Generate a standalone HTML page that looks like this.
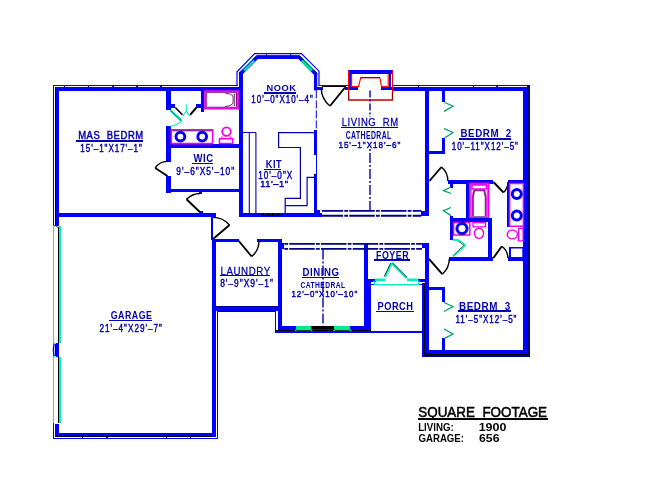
<!DOCTYPE html>
<html><head><meta charset="utf-8"><style>
html,body{margin:0;padding:0;background:#fff;width:648px;height:499px;overflow:hidden}
svg{display:block}
text{font-family:"Liberation Sans",sans-serif}
svg{will-change:transform}
</style></head><body>
<svg width="648" height="499" viewBox="0 0 648 499">
<rect width="648" height="499" fill="#fff"/>
<rect x="53" y="85" width="185" height="1" fill="#0000ff"/>
<rect x="55" y="87" width="188" height="4" fill="#0000ff"/>
<rect x="64" y="86" width="1" height="1" fill="#0000ff"/>
<rect x="88" y="86" width="1" height="1" fill="#0000ff"/>
<rect x="112" y="86" width="2" height="1" fill="#0000ff"/>
<rect x="136" y="86" width="2" height="1" fill="#0000ff"/>
<rect x="160" y="86" width="2" height="1" fill="#0000ff"/>
<rect x="53" y="85" width="1" height="140" fill="#0000ff"/>
<rect x="55" y="87" width="1" height="139" fill="#000000"/>
<rect x="56" y="87" width="3" height="139" fill="#0000ff"/>
<rect x="53" y="225" width="1" height="118" fill="#00f0c0"/>
<rect x="59" y="226" width="2" height="117" fill="#00f0c0"/>
<rect x="58" y="227" width="1" height="116" fill="#000000"/>
<rect x="53" y="357" width="1" height="66" fill="#00f0c0"/>
<rect x="59" y="357" width="2" height="66" fill="#00f0c0"/>
<rect x="58" y="357" width="1" height="66" fill="#000000"/>
<path d="M53.5,225.5 L56,225.8 L58,227.5" stroke="#000000" stroke-width="0.8" fill="none" />
<rect x="56" y="343" width="3" height="14" fill="#0000ff"/>
<rect x="55" y="344" width="1" height="12" fill="#000000"/>
<path d="M54,343.5 Q52.8,350 54,356.5" stroke="#0000ff" stroke-width="1.4" fill="none" />
<path d="M53.5,343 L55.5,343.5 M53.5,357 L55.5,356.5" stroke="#00f0c0" stroke-width="1" fill="none" />
<rect x="53" y="423" width="1" height="16" fill="#0000ff"/>
<rect x="55" y="424" width="4" height="13" fill="#0000ff"/>
<rect x="55" y="433" width="161" height="3" fill="#0000ff"/>
<rect x="55" y="436" width="161" height="1" fill="#000000"/>
<rect x="53" y="438" width="165" height="1" fill="#0000ff"/>
<rect x="82" y="437" width="1" height="1" fill="#0000ff"/>
<rect x="106" y="437" width="2" height="1" fill="#0000ff"/>
<rect x="166" y="437" width="1" height="1" fill="#0000ff"/>
<rect x="190" y="437" width="1" height="1" fill="#0000ff"/>
<rect x="212" y="239" width="4" height="198" fill="#0000ff"/>
<rect x="217" y="311" width="1" height="128" fill="#0000ff"/>
<polyline points="237,86 237,71.8 254.6,53.6 301.4,53.6 319,71.2 319,86" stroke="#0000ff" stroke-width="1.2" fill="none" stroke-linejoin="miter"/>
<polyline points="241,91 241,73.6 257.2,57.4 299,57.4 315.6,74 315.6,90.4" stroke="#0000ff" stroke-width="3.3" fill="none" stroke-linejoin="miter"/>
<polyline points="238.8,73 256.6,55.6 299.6,55.6 317.6,73.5" stroke="#000000" stroke-width="0.8" fill="none" />
<rect x="266" y="54" width="1" height="2" fill="#0000ff"/>
<rect x="290" y="54" width="1" height="2" fill="#0000ff"/>
<line x1="244.2" y1="70.6" x2="254.2" y2="60.6" stroke="#00e890" stroke-width="2.3" />
<line x1="241.8" y1="70.0" x2="252.0" y2="59.8" stroke="#00e890" stroke-width="0.9" />
<line x1="301.8" y1="60.6" x2="311.8" y2="70.6" stroke="#00e890" stroke-width="2.3" />
<line x1="304.0" y1="59.8" x2="314.2" y2="70.0" stroke="#00e890" stroke-width="0.9" />
<rect x="319" y="85" width="29" height="1" fill="#0000ff"/>
<rect x="314" y="87" width="9" height="3" fill="#0000ff"/>
<rect x="345" y="87" width="4" height="3" fill="#0000ff"/>
<rect x="322" y="86" width="24" height="1" fill="#000000"/>
<path d="M345,87.5 L330,106" stroke="#000000" stroke-width="1.9" fill="none" />
<path d="M330,106 A23.82,23.82 0 0 1 321.18,87.50" stroke="#000000" stroke-width="1.4" fill="none" />
<rect x="348" y="70" width="45" height="4" fill="#0000ff"/>
<rect x="349" y="73" width="2" height="14" fill="#0000ff"/>
<rect x="389" y="73" width="2" height="14" fill="#0000ff"/>
<rect x="349" y="87" width="9" height="3" fill="#0000ff"/>
<rect x="381" y="87" width="12" height="3" fill="#0000ff"/>
<path d="M348.6,70.4 V100 H392.5 V70.4" stroke="#ff0000" stroke-width="1.2" fill="none" />
<path d="M348.6,92 V100 H392.5 V92" stroke="#a00000" stroke-width="1.2" fill="none" />
<path d="M351.6,74 V86.6 H358.5 L360.8,77.6 H379.8 L381.5,86.6 H388.2 V74" stroke="#ff0000" stroke-width="1.1" fill="none" />
<path d="M360.8,77.6 H379.8" stroke="#a00000" stroke-width="1.2" fill="none" />
<rect x="393" y="85" width="137" height="1" fill="#0000ff"/>
<rect x="393" y="87" width="137" height="4" fill="#0000ff"/>
<rect x="418" y="86" width="1" height="1" fill="#0000ff"/>
<rect x="473" y="86" width="1" height="1" fill="#0000ff"/>
<rect x="496" y="86" width="2" height="1" fill="#0000ff"/>
<line x1="370" y1="90.5" x2="370" y2="117" stroke="#0000b0" stroke-width="1.4" stroke-dasharray="7 2 2 2"/>
<line x1="370" y1="149" x2="370" y2="210" stroke="#0000b0" stroke-width="1.4" stroke-dasharray="2 2 10 2"/>
<line x1="316.3" y1="90.4" x2="316.3" y2="130" stroke="#0000ff" stroke-width="1" stroke-dasharray="8 2"/>
<rect x="523" y="87" width="4" height="269" fill="#0000ff"/>
<rect x="527" y="85" width="3" height="272" fill="#000080"/>
<rect x="56" y="213" width="160" height="4" fill="#0000ff"/>
<rect x="200" y="211" width="3" height="2" fill="#0000ff"/>
<rect x="211" y="213" width="5" height="5" fill="#0000ff"/>
<rect x="211" y="218" width="2" height="22" fill="#0000ff"/>
<path d="M213,239 L229.5,225" stroke="#000000" stroke-width="1.9" fill="none" />
<path d="M229.5,225 A21.64,21.64 0 0 0 213.00,217.36" stroke="#000000" stroke-width="1.4" fill="none" />
<rect x="166" y="91" width="5" height="19" fill="#0000ff"/>
<rect x="171" y="104" width="4" height="4" fill="#0000ff"/>
<rect x="201" y="91" width="3" height="21" fill="#0000ff"/>
<rect x="196" y="104" width="5" height="4" fill="#0000ff"/>
<rect x="166" y="126" width="5" height="36" fill="#0000ff"/>
<rect x="166" y="176" width="5" height="17" fill="#0000ff"/>
<rect x="166" y="144" width="74" height="4" fill="#0000ff"/>
<rect x="166" y="189" width="74" height="3" fill="#0000ff"/>
<rect x="199" y="192" width="3" height="2" fill="#0000ff"/>
<path d="M175.3,107.5 L182.4,114.8" stroke="#000000" stroke-width="1.6" fill="none" />
<path d="M196.5,107.5 L190.1,114.8" stroke="#000000" stroke-width="2.0" fill="none" />
<path d="M182.6,116.2 L186.2,111.1 L186.2,104.2 M186.2,111.1 L190,116.2" stroke="#00f0c0" stroke-width="1.1" fill="none" />
<path d="M170.4,110.3 L181.6,120.8" stroke="#00f0c0" stroke-width="2.4" fill="none" />
<path d="M170.4,110.3 L181.6,120.8" stroke="#004040" stroke-width="0.6" fill="none" />
<path d="M181.6,120.8 Q177,125.5 170,126.2" stroke="#00f0c0" stroke-width="1.1" fill="none" />
<path d="M167.5,176 L155.2,168" stroke="#000000" stroke-width="1.9" fill="none" />
<path d="M155.2,168 A14.67,14.67 0 0 1 167.50,161.33" stroke="#000000" stroke-width="1.4" fill="none" />
<path d="M200.1,212.3 L186.5,199.3" stroke="#000000" stroke-width="1.9" fill="none" />
<path d="M186.5,199.3 A18.81,18.81 0 0 1 200.10,193.49" stroke="#000000" stroke-width="1.4" fill="none" />
<path d="M205.2,91.3 H238.6 V108.4 H205.2 Z" stroke="#f000f0" stroke-width="2.2" fill="none" />
<path d="M206.6,92.6 H237.2 V107.1 H206.6 Z" stroke="#600060" stroke-width="0.6" fill="none" />
<path d="M225,93 Q231,93.5 233,96 V103.5 Q231,106 225,106.6" stroke="#600060" stroke-width="0.8" fill="none" />
<path d="M234.3,93.5 V106 M236.5,93 V106.5" stroke="#600060" stroke-width="0.9" fill="none" />
<path d="M171.3,129.9 H212.6 V143.6 H171.3 Z" stroke="#f000f0" stroke-width="1.6" fill="none" />
<path d="M172.4,130.9 H211.6" stroke="#000000" stroke-width="0.6" fill="none" />
<circle cx="180.4" cy="136.6" r="4.4" stroke="#0000ff" stroke-width="2.9" fill="none"/>
<circle cx="202.2" cy="136.6" r="4.4" stroke="#0000ff" stroke-width="2.9" fill="none"/>
<circle cx="226.5" cy="131.6" r="4.3" stroke="#f000f0" stroke-width="1.8" fill="none"/>
<path d="M219.5,138.8 H232.8 V143.6 H219.5 Z" stroke="#f000f0" stroke-width="1.5" fill="none" />
<path d="M222,136.5 V138.8 M230.5,136.5 V138.8" stroke="#f000f0" stroke-width="1.2" fill="none" />
<rect x="239" y="72" width="4" height="145" fill="#0000ff"/>
<rect x="239" y="213" width="83" height="4" fill="#0000ff"/>
<rect x="261" y="214" width="20" height="2" fill="#000080"/>
<rect x="262" y="213" width="2" height="3" fill="#000000"/>
<rect x="267" y="213" width="2" height="3" fill="#000000"/>
<rect x="272" y="213" width="2" height="3" fill="#000000"/>
<rect x="277" y="213" width="2" height="3" fill="#000000"/>
<rect x="314" y="130" width="3" height="25" fill="#0000ff"/>
<rect x="316" y="155" width="1" height="19" fill="#0000ff"/>
<rect x="314" y="174" width="3" height="43" fill="#0000ff"/>
<rect x="314" y="154" width="1" height="1" fill="#000000"/>
<rect x="314" y="174" width="1" height="1" fill="#000000"/>
<rect x="314" y="210" width="6" height="7" fill="#0000ff"/>
<path d="M242.5,132.5 H256 M249.3,132.5 V213 M255.9,132.5 V213" stroke="#0000b0" stroke-width="1.1" fill="none" />
<path d="M314,132.6 H278.6 V147.5 H300.4 V198.3 H285.2 V212.9" stroke="#0000b0" stroke-width="1.2" fill="none" />
<path d="M314,177.3 H307.1 V205.6 H285.2" stroke="#0000b0" stroke-width="1.2" fill="none" />
<line x1="321.8" y1="210.9" x2="421.4" y2="210.9" stroke="#00008c" stroke-width="1.9" stroke-dasharray="25.5 1.2 3.8 1.2" stroke-dashoffset="4.2"/>
<line x1="321.8" y1="215.7" x2="421.4" y2="215.7" stroke="#00008c" stroke-width="2.0" stroke-dasharray="25.5 1.2 3.8 1.2" stroke-dashoffset="4.2"/>
<rect x="425" y="91" width="4" height="125" fill="#0000ff"/>
<rect x="421" y="211" width="8" height="5" fill="#0000ff"/>
<rect x="442" y="91" width="3" height="11" fill="#0000ff"/>
<rect x="442" y="138" width="3" height="16" fill="#0000ff"/>
<rect x="428" y="151" width="17" height="3" fill="#0000ff"/>
<path d="M444.5,102.5 L453,106 L444,111.4" stroke="#00a070" stroke-width="1.3" fill="none" />
<path d="M444,128.6 L453,132.5 L444.5,138" stroke="#00a070" stroke-width="1.3" fill="none" />
<path d="M429.4,181 L441.5,167" stroke="#000000" stroke-width="1.9" fill="none" />
<path d="M441.5,167 A18.50,18.50 0 0 1 447.90,181.00" stroke="#000000" stroke-width="1.4" fill="none" />
<rect x="448" y="180" width="45" height="4" fill="#0000ff"/>
<rect x="508" y="180" width="16" height="4" fill="#0000ff"/>
<rect x="450" y="180" width="3" height="8" fill="#0000ff"/>
<path d="M451,187 L443.5,190.7 L451,193.5" stroke="#00a070" stroke-width="1.3" fill="none" />
<path d="M451,207.5 L443.5,210.7 L451,215.6" stroke="#00a070" stroke-width="1.3" fill="none" />
<rect x="450" y="216" width="3" height="24" fill="#0000ff"/>
<rect x="466" y="183" width="3" height="36" fill="#0000ff"/>
<path d="M493.4,182 L503.5,192.5" stroke="#000000" stroke-width="1.9" fill="none" />
<path d="M503.5,192.5 A14.57,14.57 0 0 0 507.97,182.00" stroke="#000000" stroke-width="1.4" fill="none" />
<path d="M469.8,183.3 H488.6 V217.8 H469.8 Z" stroke="#f000f0" stroke-width="1.8" fill="none" />
<path d="M471.2,184.6 H487.2 V216.5 H471.2 Z" stroke="#600060" stroke-width="0.6" fill="none" />
<path d="M472.5,216.3 V197 L474,190 H484.5 L486,197 V216.3" stroke="#f000f0" stroke-width="1.6" fill="none" />
<path d="M473.3,216 V197 L474.7,190.8 H483.8 L485.2,197 V216" stroke="#000000" stroke-width="0.6" fill="none" />
<path d="M472,185 H486.5 V189 H472 Z" stroke="#f000f0" stroke-width="1.4" fill="none" />
<rect x="450" y="218" width="42" height="4" fill="#0000ff"/>
<rect x="488" y="218" width="4" height="43" fill="#0000ff"/>
<rect x="449" y="257" width="44" height="4" fill="#0000ff"/>
<path d="M452.7,239.9 L458.4,240.2 L465.3,245.3 L453,256.5" stroke="#00f0c0" stroke-width="1.7" fill="none" />
<path d="M458.4,241.2 L463.8,245.3 L453.6,255.2" stroke="#000000" stroke-width="0.5" fill="none" />
<path d="M453.6,222.5 H469.8 V235 H453.6 Z" stroke="#f000f0" stroke-width="1.5" fill="none" />
<circle cx="462" cy="228.6" r="4.9" stroke="#0000ff" stroke-width="2.7" fill="none"/>
<circle cx="462" cy="228.6" r="6.4" stroke="#000060" stroke-width="0.5" fill="none"/>
<path d="M473,222.5 H485.5 V226.8 H473 Z" stroke="#f000f0" stroke-width="1.3" fill="none" />
<ellipse cx="479" cy="233.3" rx="4.6" ry="5.1" stroke="#f000f0" stroke-width="1.4" fill="none"/>
<rect x="507" y="183" width="3" height="44" fill="#0000ff"/>
<path d="M509.6,183.5 H523.4 V226.3 H509.6 Z" stroke="#f000f0" stroke-width="1.5" fill="none" />
<circle cx="516.8" cy="194" r="4.5" stroke="#0000ff" stroke-width="3" fill="none"/>
<circle cx="516.8" cy="215.6" r="4.5" stroke="#0000ff" stroke-width="3" fill="none"/>
<ellipse cx="512.3" cy="234.5" rx="5.1" ry="4.4" stroke="#f000f0" stroke-width="1.4" fill="none"/>
<path d="M518.6,228.4 H523.1 V240.8 H518.6 Z" stroke="#f000f0" stroke-width="1.3" fill="none" />
<rect x="509" y="247" width="2" height="11" fill="#0000ff"/>
<path d="M510,247.7 H523 V257.5" stroke="#0000ff" stroke-width="1.4" fill="none" />
<path d="M493.4,258 L501.8,246.2" stroke="#000000" stroke-width="1.9" fill="none" />
<path d="M501.8,246.2 A14.48,14.48 0 0 1 507.88,258.00" stroke="#000000" stroke-width="1.4" fill="none" />
<rect x="508" y="257" width="16" height="4" fill="#0000ff"/>
<rect x="425" y="243" width="4" height="111" fill="#0000ff"/>
<rect x="422" y="243" width="7" height="5" fill="#0000ff"/>
<rect x="429" y="287" width="16" height="3" fill="#0000ff"/>
<rect x="442" y="287" width="3" height="15" fill="#0000ff"/>
<rect x="442" y="338" width="3" height="12" fill="#0000ff"/>
<path d="M444,302.5 L453,306.5 L444,311.5" stroke="#00a070" stroke-width="1.3" fill="none" />
<path d="M444,329 L453,334 L444.5,338.3" stroke="#00a070" stroke-width="1.3" fill="none" />
<rect x="425" y="350" width="102" height="4" fill="#0000ff"/>
<rect x="422" y="354" width="108" height="3" fill="#000080"/>
<rect x="422" y="354" width="108" height="1" fill="#000000"/>
<rect x="422" y="283" width="2" height="74" fill="#0000ff"/>
<rect x="424" y="283" width="1" height="72" fill="#000000"/>
<path d="M428.9,258.8 L442.3,274.2" stroke="#000000" stroke-width="1.9" fill="none" />
<path d="M442.3,274.2 A20.41,20.41 0 0 0 449.31,258.80" stroke="#000000" stroke-width="1.4" fill="none" />
<rect x="212" y="239" width="27" height="3" fill="#0000ff"/>
<rect x="257" y="239" width="24" height="3" fill="#0000ff"/>
<path d="M238.8,241 L251.7,256.5" stroke="#000000" stroke-width="1.9" fill="none" />
<path d="M251.7,256.5 A20.17,20.17 0 0 0 258.97,241.00" stroke="#000000" stroke-width="1.4" fill="none" />
<rect x="278" y="239" width="4" height="91" fill="#0000ff"/>
<rect x="281" y="243" width="1" height="81" fill="#000000"/>
<rect x="212" y="306" width="66" height="5" fill="#0000ff"/>
<rect x="216" y="306" width="62" height="1" fill="#000080"/>
<rect x="217" y="311" width="59" height="1" fill="#000000"/>
<rect x="275" y="311" width="1" height="22" fill="#0000ff"/>
<rect x="278" y="243" width="6" height="6" fill="#0000ff"/>
<rect x="278" y="326" width="90" height="4" fill="#0000ff"/>
<rect x="275" y="330" width="94" height="1" fill="#000000"/>
<rect x="275" y="331" width="94" height="2" fill="#0000ff"/>
<rect x="364" y="243" width="4" height="87" fill="#0000ff"/>
<rect x="296" y="326" width="15" height="3" fill="#00e890"/>
<rect x="311" y="326" width="23" height="3" fill="#000000"/>
<rect x="334" y="326" width="16" height="3" fill="#00e890"/>
<path d="M295,331 L297,329.6 H310.5 L312.3,331 M333.5,331 L335.2,329.6 H349.5 L351.2,331" stroke="#00e890" stroke-width="1.2" fill="none" />
<line x1="283.8" y1="243.9" x2="421.9" y2="243.9" stroke="#00008c" stroke-width="1.8" stroke-dasharray="25.5 1.2 3.8 1.2" stroke-dashoffset="26.2"/>
<line x1="283.8" y1="248.8" x2="421.9" y2="248.8" stroke="#00008c" stroke-width="1.8" stroke-dasharray="25.5 1.2 3.8 1.2" stroke-dashoffset="26.2"/>
<line x1="323" y1="249.4" x2="323" y2="325.8" stroke="#0000b0" stroke-width="1.4" stroke-dasharray="10 2 2 2"/>
<rect x="368" y="279" width="8" height="3" fill="#0000ff"/>
<rect x="418" y="279" width="7" height="3" fill="#0000ff"/>
<rect x="368" y="281" width="3" height="49" fill="#0000ff"/>
<rect x="371" y="284" width="52" height="1" fill="#0000ff"/>
<rect x="368" y="331" width="56" height="2" fill="#0000ff"/>
<rect x="366" y="330" width="5" height="1" fill="#000000"/>
<path d="M375,278.6 H385.6 V281.3 H375 Z M407.1,278.6 H417.7 V281.3 H407.1 Z" stroke="#00f0c0" stroke-width="0" fill="#00f0c0" />
<path d="M374,280.5 L374.5,284.6 H418.5 L419,280.5" stroke="#00f0c0" stroke-width="1.3" fill="none" />
<path d="M385.2,277 L391.6,263" stroke="#00f0c0" stroke-width="2.0" fill="none" />
<path d="M384.2,276.5 L390.6,263.2" stroke="#000000" stroke-width="0.7" fill="none" />
<path d="M391.6,263 L406.6,278.2" stroke="#00f0c0" stroke-width="2.0" fill="none" />
<path d="M392.6,263 L407.2,277.4" stroke="#000000" stroke-width="0.7" fill="none" />
<rect x="76" y="140" width="67" height="2" fill="#0000b0"/>
<rect x="192" y="163" width="21" height="1" fill="#0000b0"/>
<rect x="264" y="92" width="32" height="2" fill="#0000b0"/>
<rect x="341" y="127" width="57" height="1" fill="#0000b0"/>
<rect x="264" y="169" width="17" height="1" fill="#0000b0"/>
<rect x="459" y="138" width="52" height="2" fill="#0000b0"/>
<rect x="458" y="310" width="53" height="2" fill="#0000b0"/>
<rect x="374" y="259" width="36" height="2" fill="#0000b0"/>
<rect x="376" y="311" width="38" height="1" fill="#0000b0"/>
<rect x="302" y="277" width="37" height="1" fill="#0000b0"/>
<rect x="220" y="275" width="50" height="1" fill="#0000b0"/>
<rect x="109" y="320" width="43" height="1" fill="#0000b0"/>
<rect x="418" y="418" width="130" height="2" fill="#000000"/>
<text x="0" y="0" font-size="10.42" fill="#0000b0" font-weight="normal" letter-spacing="0.63" transform="translate(78.14,139.2) scale(0.909,1)" stroke="#0000b0" stroke-width="0.45">MAS  BEDRM</text>
<text x="0" y="0" font-size="10.14" fill="#0000b0" font-weight="normal" letter-spacing="1.22" transform="translate(80.34,151.9) scale(0.793,1)" stroke="#0000b0" stroke-width="0.45">15'–1&quot;X17'–1&quot;</text>
<text x="0" y="0" font-size="11.29" fill="#0000b0" font-weight="bold" letter-spacing="0.68" transform="translate(193.50,162.3) scale(0.842,1)">WIC</text>
<text x="0" y="0" font-size="11.00" fill="#0000b0" font-weight="normal" letter-spacing="1.32" transform="translate(176.37,174.5) scale(0.754,1)" stroke="#0000b0" stroke-width="0.45">9'–6&quot;X5'–10&quot;</text>
<text x="0" y="0" font-size="9.86" fill="#0000b0" font-weight="bold" letter-spacing="0.59" transform="translate(266.44,91.3) scale(0.940,1)">NOOK</text>
<text x="0" y="0" font-size="10.57" fill="#0000b0" font-weight="normal" letter-spacing="1.27" transform="translate(251.34,103.3) scale(0.762,1)" stroke="#0000b0" stroke-width="0.45">10'–0&quot;X10'–4&quot;</text>
<text x="0" y="0" font-size="10.43" fill="#0000b0" font-weight="normal" letter-spacing="0.63" transform="translate(341.74,125.6) scale(0.911,1)" stroke="#0000b0" stroke-width="0.25">LIVING  RM</text>
<text x="0" y="0" font-size="10.00" fill="#0000b0" font-weight="bold" letter-spacing="0.60" transform="translate(345.73,138.5) scale(0.687,1)">CATHEDRAL</text>
<text x="0" y="0" font-size="9.93" fill="#0000b0" font-weight="normal" letter-spacing="1.19" transform="translate(338.43,148.2) scale(0.816,1)" stroke="#0000b0" stroke-width="0.45">15'–1&quot;X18'–6&quot;</text>
<text x="0" y="0" font-size="11.00" fill="#0000b0" font-weight="bold" letter-spacing="0.66" transform="translate(265.85,168.1) scale(0.833,1)">KIT</text>
<text x="0" y="0" font-size="10.71" fill="#0000b0" font-weight="normal" letter-spacing="1.29" transform="translate(258.23,178.5) scale(0.764,1)" stroke="#0000b0" stroke-width="0.45">10'–0&quot;X</text>
<text x="0" y="0" font-size="9.42" fill="#0000b0" font-weight="normal" letter-spacing="0.57" transform="translate(260.15,186.7) scale(0.988,1)" stroke="#0000b0" stroke-width="0.45">11'–1&quot;</text>
<text x="0" y="0" font-size="10.00" fill="#0000b0" font-weight="bold" letter-spacing="0.60" transform="translate(460.41,137.2) scale(0.976,1)">BEDRM  2</text>
<text x="0" y="0" font-size="10.57" fill="#0000b0" font-weight="normal" letter-spacing="1.27" transform="translate(451.74,149.8) scale(0.760,1)" stroke="#0000b0" stroke-width="0.45">10'–11&quot;X12'–5&quot;</text>
<text x="0" y="0" font-size="10.57" fill="#0000b0" font-weight="bold" letter-spacing="0.63" transform="translate(458.91,309.6) scale(0.936,1)">BEDRM  3</text>
<text x="0" y="0" font-size="10.57" fill="#0000b0" font-weight="normal" letter-spacing="1.27" transform="translate(455.43,322.6) scale(0.764,1)" stroke="#0000b0" stroke-width="0.45">11'–5&quot;X12'–5&quot;</text>
<text x="0" y="0" font-size="11.43" fill="#0000b0" font-weight="bold" letter-spacing="0.69" transform="translate(375.97,258.5) scale(0.775,1)">FOYER</text>
<text x="0" y="0" font-size="10.29" fill="#0000b0" font-weight="bold" letter-spacing="0.62" transform="translate(377.44,309.6) scale(0.899,1)">PORCH</text>
<text x="0" y="0" font-size="10.71" fill="#0000b0" font-weight="bold" letter-spacing="0.64" transform="translate(302.42,276.1) scale(0.900,1)">DINING</text>
<text x="0" y="0" font-size="8.57" fill="#0000b0" font-weight="bold" letter-spacing="0.51" transform="translate(300.53,287.8) scale(0.785,1)">CATHEDRAL</text>
<text x="0" y="0" font-size="9.43" fill="#0000b0" font-weight="normal" letter-spacing="1.13" transform="translate(291.45,297.3) scale(0.839,1)" stroke="#0000b0" stroke-width="0.45">12'–0&quot;X10'–10&quot;</text>
<text x="0" y="0" font-size="10.43" fill="#0000b0" font-weight="normal" letter-spacing="0.63" transform="translate(220.42,274.5) scale(0.935,1)" stroke="#0000b0" stroke-width="0.25">LAUNDRY</text>
<text x="0" y="0" font-size="11.00" fill="#0000b0" font-weight="normal" letter-spacing="1.32" transform="translate(220.16,287.3) scale(0.763,1)" stroke="#0000b0" stroke-width="0.45">8'–9&quot;X9'–1&quot;</text>
<text x="0" y="0" font-size="10.57" fill="#0000b0" font-weight="bold" letter-spacing="0.63" transform="translate(110.65,319.1) scale(0.835,1)">GARAGE</text>
<text x="0" y="0" font-size="10.57" fill="#0000b0" font-weight="normal" letter-spacing="1.27" transform="translate(99.49,331.5) scale(0.772,1)" stroke="#0000b0" stroke-width="0.45">21'–4&quot;X29'–7&quot;</text>
<text x="0" y="0" font-size="13.80" fill="#000000" font-weight="normal" letter-spacing="0.00" transform="translate(418.26,417.4) scale(0.973,1)" stroke="#000000" stroke-width="0.5">SQUARE  FOOTAGE</text>
<text x="0" y="0" font-size="10.71" fill="#000000" font-weight="bold" letter-spacing="0.00" transform="translate(418.22,430.6) scale(0.903,1)">LIVING:</text>
<text x="0" y="0" font-size="10.71" fill="#000000" font-weight="bold" letter-spacing="0.00" transform="translate(478.65,430.6) scale(1.166,1)">1900</text>
<text x="0" y="0" font-size="10.00" fill="#000000" font-weight="bold" letter-spacing="0.00" transform="translate(418.41,441.7) scale(0.967,1)">GARAGE:</text>
<text x="0" y="0" font-size="10.00" fill="#000000" font-weight="bold" letter-spacing="0.00" transform="translate(479.03,441.7) scale(1.229,1)">656</text>
</svg></body></html>
